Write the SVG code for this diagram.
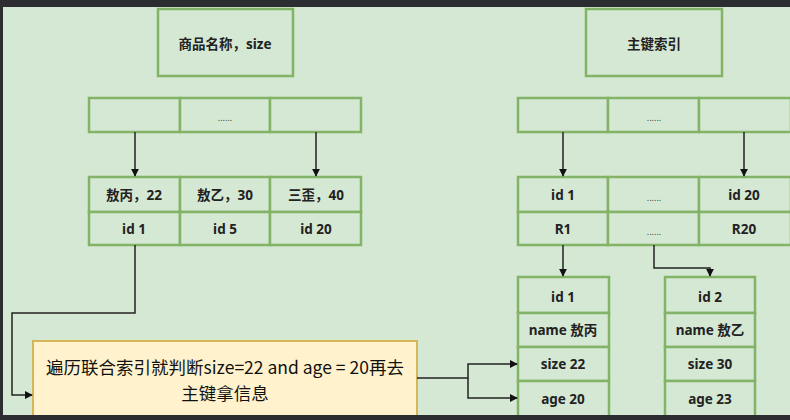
<svg xmlns="http://www.w3.org/2000/svg" width="790" height="420" viewBox="0 0 790 420">
<style>
.c{fill:#d5e8d4;stroke:#82b366;stroke-width:2.5}
.t{font-family:"Noto Sans","Noto Sans CJK SC",sans-serif;font-size:13.5px;font-weight:bold;fill:#222;text-anchor:middle;dominant-baseline:central}
.d{font-family:"Noto Sans",sans-serif;font-size:9px;fill:#444;text-anchor:middle;dominant-baseline:central}
.y{fill:#fff2cc;stroke:#d6b656;stroke-width:2}
.yt{font-family:"Noto Sans CJK SC",sans-serif;font-size:17.5px;fill:#111;text-anchor:middle;dominant-baseline:central}
.l{fill:none;stroke:#222;stroke-width:1.5}
</style>
<defs>
<marker id="a" viewBox="0 0 10 10" refX="9" refY="5" markerWidth="8" markerHeight="8" markerUnits="userSpaceOnUse" orient="auto"><path d="M0,0 L10,5 L0,10 z" fill="#111"/></marker>
</defs>
<rect width="790" height="420" fill="#2b2d30"/>
<rect x="3" y="7" width="787" height="408" fill="#d5e8d4"/>
<g id="left-root"><rect class="c" x="158" y="9" width="135" height="67"/><text class="t" x="225" y="44">商品名称，size</text></g>
<g id="left-inner">
<rect class="c" x="89" y="98" width="91" height="34"/><rect class="c" x="180" y="98" width="90" height="34"/><rect class="c" x="270" y="98" width="91" height="34"/>
<text class="d" x="225" y="117">......</text></g>
<g id="left-leaf">
<rect class="c" x="89" y="177" width="91" height="35"/><rect class="c" x="180" y="177" width="90" height="35"/><rect class="c" x="270" y="177" width="91" height="35"/>
<rect class="c" x="89" y="212" width="91" height="33"/><rect class="c" x="180" y="212" width="90" height="33"/><rect class="c" x="270" y="212" width="91" height="33"/>
<text class="t" x="134" y="195">敖丙，22</text><text class="t" x="225" y="195">敖乙，30</text><text class="t" x="316" y="195">三歪，40</text>
<text class="t" x="134" y="229">id 1</text><text class="t" x="225" y="229">id 5</text><text class="t" x="316" y="229">id 20</text></g>
<g id="right-root"><rect class="c" x="586" y="9" width="136" height="67"/><text class="t" x="654" y="44">主键索引</text></g>
<g id="right-inner">
<rect class="c" x="518" y="98" width="90" height="34"/><rect class="c" x="608" y="98" width="91" height="34"/><rect class="c" x="699" y="98" width="92" height="34"/>
<text class="d" x="654" y="117">......</text></g>
<g id="right-leaf">
<rect class="c" x="518" y="177" width="90" height="35"/><rect class="c" x="608" y="177" width="91" height="35"/><rect class="c" x="699" y="177" width="92" height="35"/>
<rect class="c" x="518" y="212" width="90" height="33"/><rect class="c" x="608" y="212" width="91" height="33"/><rect class="c" x="699" y="212" width="92" height="33"/>
<text class="t" x="563" y="195">id 1</text><text class="d" x="654" y="197">......</text><text class="t" x="744" y="195">id 20</text>
<text class="t" x="563" y="229">R1</text><text class="d" x="654" y="231">......</text><text class="t" x="744" y="229">R20</text></g>
<g id="row1">
<rect class="c" x="518" y="277" width="91" height="36"/><rect class="c" x="518" y="313" width="91" height="34"/><rect class="c" x="518" y="347" width="91" height="34"/><rect class="c" x="518" y="381" width="91" height="36"/>
<text class="t" x="563" y="297">id 1</text><text class="t" x="563" y="330">name 敖丙</text><text class="t" x="563" y="364">size 22</text><text class="t" x="563" y="399">age 20</text></g>
<g id="row2">
<rect class="c" x="665" y="277" width="90" height="36"/><rect class="c" x="665" y="313" width="90" height="34"/><rect class="c" x="665" y="347" width="90" height="34"/><rect class="c" x="665" y="381" width="90" height="36"/>
<text class="t" x="710" y="297">id 2</text><text class="t" x="710" y="330">name 敖乙</text><text class="t" x="710" y="364">size 30</text><text class="t" x="710" y="399">age 23</text></g>
<g id="note"><rect class="y" x="33" y="341" width="384" height="80"/>
<text class="yt" x="225" y="366">遍历联合索引就判断size=22 and age = 20再去</text><text class="yt" x="225" y="392">主键拿信息</text></g>
<g id="connectors">
<path class="l" d="M135,132 V176" marker-end="url(#a)"/>
<path class="l" d="M316,132 V176" marker-end="url(#a)"/>
<path class="l" d="M563,132 V176" marker-end="url(#a)"/>
<path class="l" d="M744,132 V176" marker-end="url(#a)"/>
<path class="l" d="M563,245 V276" marker-end="url(#a)"/>
<path class="l" d="M654,245 V268 H710 V276" marker-end="url(#a)"/>
<path class="l" d="M135,245 V313 H12 V395 H32" marker-end="url(#a)"/>
<path class="l" d="M417,378 H468 V364 H517" marker-end="url(#a)"/>
<path class="l" d="M468,378 V398 H517" marker-end="url(#a)"/>
</g>
<rect y="415" width="790" height="5" fill="#2b2d30"/>
</svg>
